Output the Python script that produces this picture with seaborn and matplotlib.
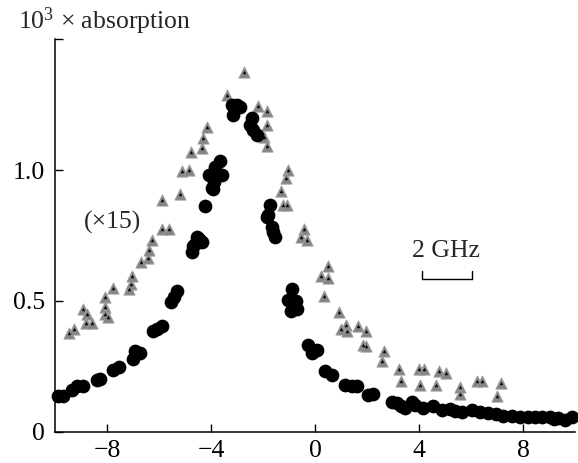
import matplotlib
matplotlib.use("Agg")
import matplotlib.pyplot as plt
import pandas as pd
import seaborn as sns

# ---- data ----
circle_x = [-9.87, -9.68, -9.36, -9.17, -8.91, -8.40, -8.27, -7.76, -7.53, -7.01,
            -6.92, -6.73, -6.22, -6.09, -5.90, -5.55, -5.42, -5.30, -4.74, -4.68,
            -4.62, -4.55, -4.45, -4.36, -4.23, -3.97, -3.93, -3.90, -4.06, -3.85,
            -3.78, -3.65, -3.59, -3.20, -3.01, -2.88, -3.14, -2.43, -2.50, -2.37,
            -2.24, -1.73, -1.86, -1.79, -1.67, -1.60, -1.54, -0.90, -1.03, -0.73,
            -0.94, -0.70, -0.26, -0.13, 0.06, 0.38, 0.64, 1.15, 1.41, 1.60,
            2.05, 2.24, 2.95, 3.14, 3.30, 3.46, 3.72, 3.85, 4.17, 4.55, 4.87,
            5.19, 5.40, 5.64, 6.03, 6.35, 6.67, 6.95, 7.24, 7.57, 7.88, 8.20,
            8.45, 8.72, 9.04, 9.20, 9.36, 9.62, 9.87]
circle_y = [0.137, 0.135, 0.160, 0.173, 0.173, 0.199, 0.200, 0.237, 0.248, 0.276,
            0.308, 0.301, 0.385, 0.391, 0.404, 0.494, 0.513, 0.538, 0.688, 0.711,
            0.718, 0.744, 0.737, 0.725, 0.863, 0.930, 0.926, 0.955, 0.981, 1.013,
            0.981, 1.035, 0.981, 1.250, 1.250, 1.240, 1.210, 1.199, 1.173, 1.154,
            1.135, 0.865, 0.820, 0.827, 0.782, 0.763, 0.744, 0.545, 0.505, 0.500,
            0.462, 0.470, 0.333, 0.301, 0.314, 0.231, 0.218, 0.180, 0.173, 0.173,
            0.141, 0.145, 0.115, 0.109, 0.100, 0.090, 0.112, 0.103, 0.090, 0.099, 0.083,
            0.086, 0.080, 0.077, 0.083, 0.077, 0.073, 0.066, 0.060, 0.060, 0.058, 0.055,
            0.055, 0.055, 0.055, 0.050, 0.051, 0.045, 0.055]

tri_x = [-9.46, -9.26, -8.91, -8.78, -8.81, -8.58, -8.08, -8.08, -8.08, -7.97,
         -7.76, -7.15, -7.08, -7.05, -6.69, -6.44, -6.37, -6.26, -5.87, -5.62,
         -5.87, -5.20, -5.10, -4.83, -4.77, -4.33, -4.29, -4.14, -3.37, -2.73,
         -2.18, -1.83, -1.83, -1.95, -1.83, -1.03, -1.12, -1.31, -1.22, -1.07,
         -0.42, -0.55, -0.32, 0.51, 0.22, 0.51, 0.35, 0.94, 1.19, 1.00,
         1.22, 1.64, 1.96, 1.83, 1.98, 2.65, 2.58, 3.24, 3.30, 4.01,
         4.20, 4.04, 4.65, 4.78, 5.03, 5.57, 5.57, 6.23, 6.41, 7.15, 6.99]
tri_y = [0.378, 0.391, 0.468, 0.449, 0.414, 0.417, 0.513, 0.475, 0.449, 0.440,
         0.551, 0.545, 0.564, 0.594, 0.650, 0.663, 0.695, 0.731, 0.776, 0.776,
         0.885, 0.907, 0.996, 1.000, 1.071, 1.083, 1.122, 1.163, 1.286, 1.376,
         1.246, 1.227, 1.173, 1.128, 1.094, 1.000, 0.971, 0.919, 0.866, 0.866,
         0.776, 0.746, 0.731, 0.635, 0.596, 0.586, 0.519, 0.458, 0.407, 0.391,
         0.385, 0.404, 0.385, 0.330, 0.327, 0.310, 0.269, 0.240, 0.195, 0.240,
         0.240, 0.177, 0.177, 0.231, 0.226, 0.172, 0.146, 0.192, 0.192, 0.188, 0.137]

x_ticks = [-8, -4, 0, 4, 8]
x_tick_labels = ["\u22128", "\u22124", "0", "4", "8"]
y_ticks = [0, 0.5, 1.0, 1.5]
y_tick_labels = ["0", "0.5", "1.0", ""]

y_label = "10$^3$ \u00d7 absorption"
scale_label = "2 GHz"
factor_label = "(\u00d715)"
scale_bar = [4.1, 6.04]      # 2 GHz scale bar ends (data units)
scale_bar_y = 0.583

circles = pd.DataFrame({"x": circle_x, "y": circle_y})
triangles = pd.DataFrame({"x": tri_x, "y": tri_y})

# ---- style ----
sns.set_style("ticks")
plt.rcParams["font.family"] = ["Liberation Serif", "DejaVu Serif"]
plt.rcParams["mathtext.fontset"] = "custom"
plt.rcParams["mathtext.rm"] = "Liberation Serif"
plt.rcParams["mathtext.it"] = "Liberation Serif:italic"
FS = 18.5

fig = plt.figure(figsize=(5.78, 4.63), dpi=100)
ax = fig.add_axes([55 / 578, 1 - 431.7 / 463, (575 - 55) / 578, (431.7 - 39.3) / 463])

sns.scatterplot(data=triangles, x="x", y="y", marker="^", s=66, color="#858585",
                edgecolor="#a0a0a0", linewidth=0.6, ax=ax, zorder=3, legend=False)
sns.scatterplot(data=triangles, x="x", y="y", marker="^", s=6, color="black",
                linewidth=0, ax=ax, zorder=4, legend=False)
sns.scatterplot(data=circles, x="x", y="y", marker="o", s=98, color="black",
                linewidth=0, ax=ax, zorder=5, legend=False, clip_on=False)

ax.set_xlim(-10, 10)
ax.set_ylim(0, 1.5)
ax.set_xticks(x_ticks)
ax.set_xticklabels(x_tick_labels)
ax.set_yticks(y_ticks)
ax.set_yticklabels(y_tick_labels)
ax.set_xlabel("")
ax.set_ylabel("")

for s in ["top", "right"]:
    ax.spines[s].set_visible(False)
for s in ["left", "bottom"]:
    ax.spines[s].set_linewidth(1.1)
    ax.spines[s].set_color("black")

ax.tick_params(axis="both", direction="in", length=5.8, width=1.0, color="black",
               labelsize=FS, labelcolor="black")
ax.tick_params(axis="y", pad=7)
ax.tick_params(axis="x", pad=6)

# scale bar
ax.plot(scale_bar, [scale_bar_y, scale_bar_y], color="black", lw=1.0)
for xb in scale_bar:
    ax.plot([xb, xb], [scale_bar_y, scale_bar_y + 0.032], color="black", lw=1.0)
ax.text(sum(scale_bar) / 2 - 0.05, 0.69, scale_label, ha="center", va="center", fontsize=FS)
ax.text(-7.77, 0.80, factor_label, ha="center", va="center", fontsize=FS)

fig.text(18 / 578, 1 - 21 / 463, y_label, ha="left", va="center", fontsize=FS)

fig.savefig("out.png", dpi=100)
